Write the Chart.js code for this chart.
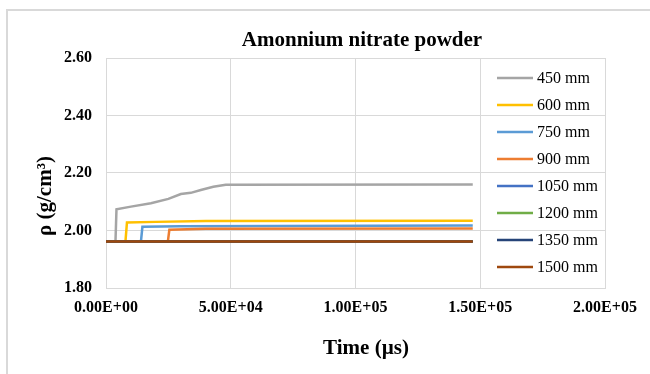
<!DOCTYPE html>
<html>
<head>
<meta charset="utf-8">
<script src="https://cdn.jsdelivr.net/npm/chart.js@4/dist/chart.umd.min.js"></script>
<style>
  body { margin: 0; background: #fff; }
  canvas { display: block; }
</style>
</head>
<body>
<canvas id="myChart" width="650" height="374"></canvas>
<script>
// density vs time for each stand-off distance
const labels = ['450 mm', '600 mm', '750 mm', '900 mm', '1050 mm', '1200 mm', '1350 mm', '1500 mm'];
const colors = ['#A5A5A5', '#FFC000', '#5B9BD5', '#ED7D31', '#4472C4', '#70AD47', '#264478', '#9E480E'];

const t450 = [0, 3800, 4200, 10000, 18000, 25000, 30000, 34000, 38000, 43000, 48000, 147000];
const rho450 = [1.962, 1.962, 2.074, 2.083, 2.095, 2.110, 2.127, 2.131, 2.141, 2.152, 2.159, 2.160];
const t600 = [0, 7800, 8400, 20000, 40000, 147000];
const rho600 = [1.962, 1.962, 2.028, 2.030, 2.033, 2.034];
const t750 = [0, 14000, 14600, 30000, 147000];
const rho750 = [1.962, 1.962, 2.013, 2.015, 2.017];
const t900 = [0, 24800, 25400, 40000, 147000];
const rho900 = [1.962, 1.962, 2.003, 2.006, 2.007];
const tFlat = [0, 147000];
const rho1050 = [1.962, 1.962];
const rho1200 = [1.962, 1.962];
const rho1350 = [1.962, 1.962];
const rho1500 = [1.962, 1.962];

const yTicks = [1.8, 2.0, 2.2, 2.4, 2.6];
const xTicks = [0, 50000, 100000, 150000, 200000];

const times = [t450, t600, t750, t900, tFlat, tFlat, tFlat, tFlat];
const rhos = [rho450, rho600, rho750, rho900, rho1050, rho1200, rho1350, rho1500];

const datasets = labels.map((name, i) => ({
  label: name,
  data: times[i].map((t, k) => ({ x: t, y: rhos[i][k] })),
  borderColor: colors[i],
  backgroundColor: colors[i],
  borderWidth: 2.5,
  pointRadius: 0,
  showLine: true,
  tension: 0,
  order: labels.length - i
}));

// 1.00E+05 style labels
function sci(v) {
  if (v === 0) return '0.00E+00';
  const e = Math.floor(Math.log10(v));
  const m = (v / Math.pow(10, e)).toFixed(2);
  return m + 'E+' + (e < 10 ? '0' + e : e);
}

const serif = "'Liberation Serif', 'Times New Roman', serif";
const gridColor = '#D9D9D9';

// titles, legend and frame drawn by hand
const extras = {
  id: 'extras',
  beforeDraw(chart) {
    const c = chart.ctx;
    c.save();
    c.strokeStyle = gridColor;
    c.lineWidth = 2;
    c.beginPath();
    c.moveTo(7, 374);
    c.lineTo(7, 10);
    c.lineTo(650, 10);
    c.stroke();
    c.restore();
  },
  afterDraw(chart) {
    const c = chart.ctx;
    c.save();
    c.fillStyle = '#000';
    c.textAlign = 'center';
    c.textBaseline = 'middle';
    c.font = 'bold 21px ' + serif;
    c.fillText('Amonnium nitrate powder', 362, 41);
    c.fillText('Time (µs)', 366, 349);
    c.save();
    c.translate(46, 196);
    c.rotate(-Math.PI / 2);
    c.fillText('ρ (g/cm³)', 0, 0);
    c.restore();

    // legend
    c.textAlign = 'left';
    c.font = '16px ' + serif;
    labels.forEach((name, i) => {
      const y = 78 + i * 27;
      c.strokeStyle = colors[i];
      c.lineWidth = 2.5;
      c.beginPath();
      c.moveTo(497, y);
      c.lineTo(533, y);
      c.stroke();
      c.fillStyle = '#000';
      c.fillText(name, 537, y + 1);
    });
    c.restore();
  }
};

new Chart(document.getElementById('myChart'), {
  type: 'scatter',
  data: { datasets: datasets },
  options: {
    responsive: false,
    animation: false,
    layout: { padding: { left: 0, top: 58, right: 45, bottom: 0 } },
    plugins: {
      legend: { display: false },
      tooltip: { enabled: false }
    },
    scales: {
      x: {
        type: 'linear',
        min: 0,
        max: 200000,
        afterFit: s => { s.height = 86; },
        afterBuildTicks: s => { s.ticks = xTicks.map(v => ({ value: v })); },
        grid: { color: gridColor, drawTicks: false },
        border: { color: gridColor },
        ticks: {
          padding: 10,
          color: '#000',
          font: { family: serif, size: 16, weight: 'bold' },
          callback: v => sci(v)
        }
      },
      y: {
        min: 1.8,
        max: 2.6,
        afterFit: s => { s.width = 106; },
        afterBuildTicks: s => { s.ticks = yTicks.map(v => ({ value: v })); },
        grid: { color: gridColor, drawTicks: false },
        border: { color: gridColor },
        ticks: {
          padding: 14,
          color: '#000',
          font: { family: serif, size: 16, weight: 'bold' },
          callback: v => v.toFixed(2)
        }
      }
    }
  },
  plugins: [extras]
});
</script>
</body>
</html>
